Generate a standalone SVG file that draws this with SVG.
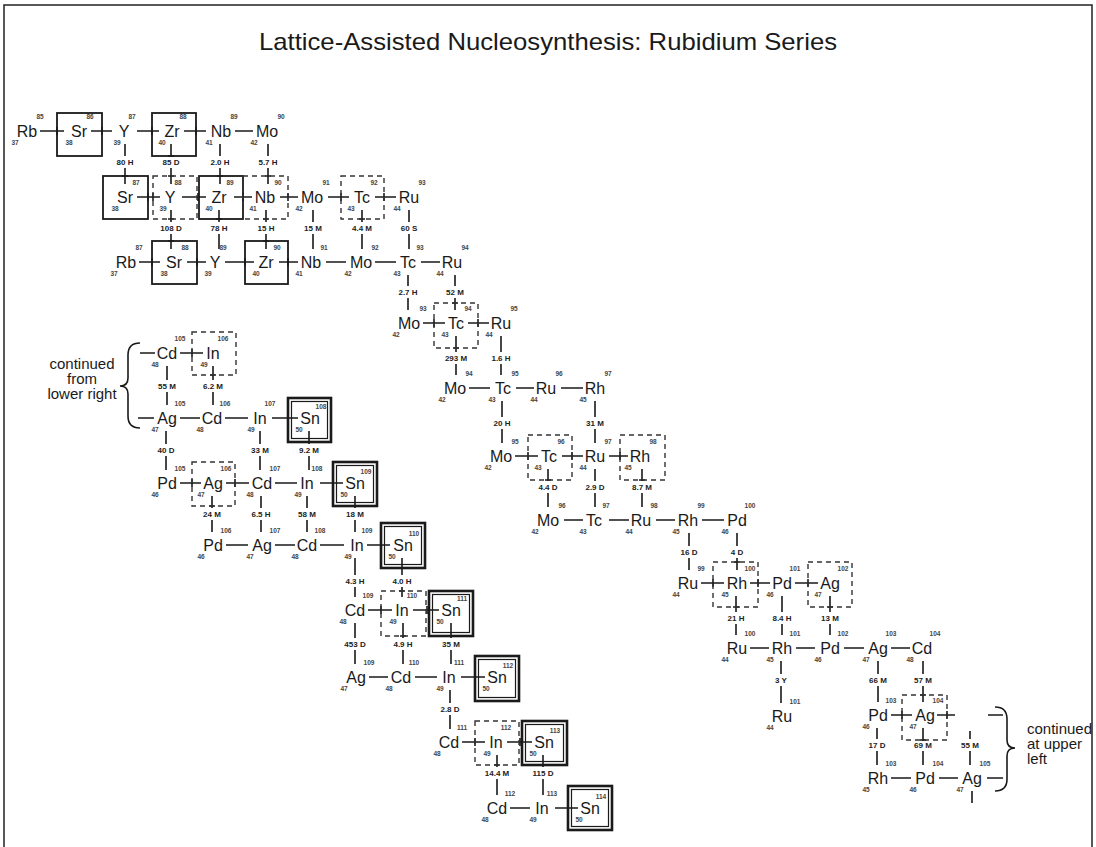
<svg xmlns="http://www.w3.org/2000/svg" width="1096" height="847" viewBox="0 0 1096 847">
<style>
.e{font-family:"Liberation Sans",Arial,sans-serif;font-size:16px;text-anchor:middle;fill:#1a1a1a}
.s{font-family:"Liberation Sans",Arial,sans-serif;font-size:6.5px;font-weight:bold;text-anchor:middle;fill:#444}
.h{font-family:"Liberation Sans",Arial,sans-serif;font-size:8px;font-weight:bold;text-anchor:middle;fill:#222}
.n{font-family:"Liberation Sans",Arial,sans-serif;font-size:15px;fill:#1a1a1a}
.c{stroke:#1a1a1a;stroke-width:1.6;fill:none}
.b{fill:none;stroke:#1a1a1a;stroke-width:1.8}
.d{fill:none;stroke:#333;stroke-width:1.4;stroke-dasharray:5 4}
.o{fill:none;stroke:#1a1a1a;stroke-width:2.6}
.i{fill:none;stroke:#1a1a1a;stroke-width:1.2}
</style>
<rect width="1096" height="847" fill="#fff"/>
<path d="M4 847V5H1092V847" fill="none" stroke="#222" stroke-width="1.5"/>
<text x="548" y="50" font-family="Liberation Sans, Arial, sans-serif" font-size="24" text-anchor="middle" textLength="578" lengthAdjust="spacingAndGlyphs" fill="#1a1a1a">Lattice-Assisted Nucleosynthesis: Rubidium Series</text>

<g id="connectors">
<path class="c" d="M40 131H64M91 131H112M137 131H159M184 131H206M235 131H253
M137 197H160M182 197H206M234 197H252M280 197H298M328 197H349M375 197H396
M139 262H160M187 262H206M225 262H254M279 262H298M326 262H346M375 262H396M421 262H440
M423 323H445M468 323H489
M469 388H490M516 388H534M561 388H583
M515 456H538M562 456H583M609 456H628
M564 520H583M609 520H629M656 520H675M702 520H724
M701 583H724M750 583H770M795 583H818
M750 648H769M796 648H815M844 648H864M891 648H910
M891 715H912M937 715H955M988 715H1003
M891 778H911M939 778H958M987 778H1003
M140 353H155M180 353H203
M138 418H154M180 418H200M225 418H248M272 418H298
M180 483H201M226 483H249M275 483H297M320 483H343
M226 545H248M275 545H295M320 545H344M367 545H390
M368 610H392M413 610H439
M369 677H388M415 677H437M461 677H485
M462 742H485M507 742H532
M510 808H530M555 808H578"/>
<path class="c" d="M57 127V135M102 127V135M152 127V135M196 127V135
M148 193V201M153 193V201M198 193V201M243 193V201M288 193V201M341 193V201M384 193V201
M152 258V266M197 258V266M245 258V266M288 258V266
M434 319V327M478 319V327
M528 452V460M572 452V460M620 452V460
M713 579V587M758 579V587M808 579V587
M902 711V719M947 711V719
M192 349V357M288 414V422M192 479V487M235 479V487M333 479V487M381 541V549M381 606V614M427 606V614M475 673V681M475 738V746M520 738V746M568 804V812"/>
<path class="c" d="M125 144V156M125 168V184M171 144V156M171 168V184M220 144V156M220 168V184M268 144V156M268 168V184
M171 210V222M171 234V249M219 210V222M219 234V249M266 210V222M266 234V249M313 210V222M313 234V249M362 210V222M362 234V249M409 210V222M409 234V249
M408 275V286M408 298V310M455 275V286M455 298V310
M456 336V352M456 364V375M501 336V352M501 364V375
M502 401V417M502 429V443M595 401V417M595 429V443
M548 469V481M548 493V507M595 469V481M595 493V507M642 469V481M642 493V507
M689 533V546M689 558V570M737 533V546M737 558V570
M736 596V612M736 624V635M782 596V612M782 624V635M830 596V612M830 624V635
M781 661V674M781 686V703M878 661V674M878 686V702M923 661V674M923 686V702
M877 728V739M877 751V765M923 728V741M923 751V765M970 731V739M970 751V765M972 791V803
M167 366V380M167 392V405M213 366V380M213 392V405
M166 431V444M166 456V470M260 431V444M260 456V470M309 431V444M309 456V470
M212 496V508M212 520V532M261 496V508M261 520V532M307 496V508M307 520V532M355 496V508M355 520V532
M355 558V575M355 587V597M402 558V575M402 587V597
M355 623V638M355 650V664M403 623V638M403 650V664M451 623V638M451 650V664
M450 690V703M450 715V729
M497 755V767M497 779V795M543 755V767M543 779V795"/>
<path class="c" d="M122 176H128M168 156H174M168 176H174M217 176H223M265 176H271
M168 219H174M168 241H174M216 219H222M263 219H269M263 241H269M359 219H365
M452 303H458M453 348H459M545 480H551M639 480H645M734 562H740M733 607H739M827 607H833M920 695H926M920 740H926
M210 375H216M306 442H312M209 506H215M352 506H358M399 568H405M399 591H405M400 636H406M448 636H454M494 765H500M540 765H546"/>
<path class="c" d="M140 343Q128 343 128 355V378Q128 386 120 386Q128 386 128 394V416Q128 428 140 428"/>
<path class="c" d="M995 707Q1007 707 1007 719V740Q1007 748 1015 748Q1007 748 1007 756V779Q1007 791 995 791"/>
<g id="halflives">
<text class="h" x="125" y="165">80 H</text><text class="h" x="171" y="165">85 D</text><text class="h" x="220" y="165">2.0 H</text><text class="h" x="268" y="165">5.7 H</text>
<text class="h" x="171" y="231">108 D</text><text class="h" x="219" y="231">78 H</text><text class="h" x="266" y="231">15 H</text><text class="h" x="313" y="231">15 M</text><text class="h" x="362" y="231">4.4 M</text><text class="h" x="409" y="231">60 S</text>
<text class="h" x="408" y="295">2.7 H</text><text class="h" x="455" y="295">52 M</text>
<text class="h" x="456" y="361">293 M</text><text class="h" x="501" y="361">1.6 H</text>
<text class="h" x="502" y="426">20 H</text><text class="h" x="595" y="426">31 M</text>
<text class="h" x="548" y="490">4.4 D</text><text class="h" x="595" y="490">2.9 D</text><text class="h" x="642" y="490">8.7 M</text>
<text class="h" x="689" y="555">16 D</text><text class="h" x="737" y="555">4 D</text>
<text class="h" x="736" y="621">21 H</text><text class="h" x="782" y="621">8.4 H</text><text class="h" x="830" y="621">13 M</text>
<text class="h" x="781" y="683">3 Y</text><text class="h" x="878" y="683">66 M</text><text class="h" x="923" y="683">57 M</text>
<text class="h" x="877" y="748">17 D</text><text class="h" x="923" y="748">69 M</text><text class="h" x="970" y="748">55 M</text>
<text class="h" x="167" y="389">55 M</text><text class="h" x="213" y="389">6.2 M</text>
<text class="h" x="166" y="453">40 D</text><text class="h" x="260" y="453">33 M</text><text class="h" x="309" y="453">9.2 M</text>
<text class="h" x="212" y="517">24 M</text><text class="h" x="261" y="517">6.5 H</text><text class="h" x="307" y="517">58 M</text><text class="h" x="355" y="517">18 M</text>
<text class="h" x="355" y="584">4.3 H</text><text class="h" x="402" y="584">4.0 H</text>
<text class="h" x="355" y="647">453 D</text><text class="h" x="403" y="647">4.9 H</text><text class="h" x="451" y="647">35 M</text>
<text class="h" x="450" y="712">2.8 D</text>
<text class="h" x="497" y="776">14.4 M</text><text class="h" x="543" y="776">115 D</text>
</g>
</g>

<g id="notes">
<text class="n" x="82" y="369" text-anchor="middle">continued</text>
<text class="n" x="82" y="384" text-anchor="middle">from</text>
<text class="n" x="82" y="399" text-anchor="middle">lower right</text>
<text class="n" x="1027" y="734">continued</text>
<text class="n" x="1027" y="749">at upper</text>
<text class="n" x="1027" y="764">left</text>
</g>

<g id="r1-rb85"><text class="e" x="27" y="137">Rb</text><text class="s" x="40" y="119">85</text><text class="s" x="15" y="145">37</text></g>
<g id="r1-sr86"><rect class="b" x="57" y="113" width="45" height="43"/><text class="e" x="79" y="137">Sr</text><text class="s" x="90" y="119">86</text><text class="s" x="69" y="145">38</text></g>
<g id="r1-y87"><text class="e" x="124" y="137">Y</text><text class="s" x="132" y="119">87</text><text class="s" x="117" y="145">39</text></g>
<g id="r1-zr88"><rect class="b" x="152" y="113" width="44" height="43"/><text class="e" x="172" y="137">Zr</text><text class="s" x="183" y="119">88</text><text class="s" x="162" y="145">40</text></g>
<g id="r1-nb89"><text class="e" x="221" y="137">Nb</text><text class="s" x="234" y="119">89</text><text class="s" x="209" y="145">41</text></g>
<g id="r1-mo90"><text class="e" x="267" y="137">Mo</text><text class="s" x="281" y="119">90</text><text class="s" x="254" y="145">42</text></g>

<g id="r2-sr87"><rect class="b" x="103" y="176" width="45" height="43"/><text class="e" x="125" y="203">Sr</text><text class="s" x="136" y="185">87</text><text class="s" x="115" y="211">38</text></g>
<g id="r2-y88"><rect class="d" x="153" y="176" width="44" height="43"/><text class="e" x="170" y="203">Y</text><text class="s" x="178" y="185">88</text><text class="s" x="163" y="211">39</text></g>
<g id="r2-zr89"><rect class="b" x="199" y="176" width="44" height="43"/><text class="e" x="219" y="203">Zr</text><text class="s" x="230" y="185">89</text><text class="s" x="209" y="211">40</text></g>
<g id="r2-nb90"><rect class="d" x="243" y="176" width="45" height="43"/><text class="e" x="265" y="203">Nb</text><text class="s" x="278" y="185">90</text><text class="s" x="253" y="211">41</text></g>
<g id="r2-mo91"><text class="e" x="312" y="203">Mo</text><text class="s" x="326" y="185">91</text><text class="s" x="299" y="211">42</text></g>
<g id="r2-tc92"><rect class="d" x="341" y="176" width="43" height="43"/><text class="e" x="362" y="203">Tc</text><text class="s" x="374" y="185">92</text><text class="s" x="351" y="211">43</text></g>
<g id="r2-ru93"><text class="e" x="409" y="203">Ru</text><text class="s" x="422" y="185">93</text><text class="s" x="397" y="211">44</text></g>

<g id="r3-rb87"><text class="e" x="126" y="268">Rb</text><text class="s" x="139" y="250">87</text><text class="s" x="114" y="276">37</text></g>
<g id="r3-sr88"><rect class="b" x="152" y="241" width="45" height="43"/><text class="e" x="174" y="268">Sr</text><text class="s" x="185" y="250">88</text><text class="s" x="164" y="276">38</text></g>
<g id="r3-y89"><text class="e" x="215" y="268">Y</text><text class="s" x="223" y="250">89</text><text class="s" x="208" y="276">39</text></g>
<g id="r3-zr90"><rect class="b" x="245" y="241" width="43" height="43"/><text class="e" x="266" y="268">Zr</text><text class="s" x="277" y="250">90</text><text class="s" x="256" y="276">40</text></g>
<g id="r3-nb91"><text class="e" x="311" y="268">Nb</text><text class="s" x="324" y="250">91</text><text class="s" x="299" y="276">41</text></g>
<g id="r3-mo92"><text class="e" x="361" y="268">Mo</text><text class="s" x="375" y="250">92</text><text class="s" x="348" y="276">42</text></g>
<g id="r3-tc93"><text class="e" x="408" y="268">Tc</text><text class="s" x="420" y="250">93</text><text class="s" x="397" y="276">43</text></g>
<g id="r3-ru94"><text class="e" x="452" y="268">Ru</text><text class="s" x="465" y="250">94</text><text class="s" x="440" y="276">44</text></g>

<g id="r4-mo93"><text class="e" x="409" y="329">Mo</text><text class="s" x="423" y="311">93</text><text class="s" x="396" y="337">42</text></g>
<g id="r4-tc94"><rect class="d" x="434" y="303" width="44" height="45"/><text class="e" x="456" y="329">Tc</text><text class="s" x="468" y="311">94</text><text class="s" x="445" y="337">43</text></g>
<g id="r4-ru95"><text class="e" x="501" y="329">Ru</text><text class="s" x="514" y="311">95</text><text class="s" x="489" y="337">44</text></g>

<g id="r5-mo94"><text class="e" x="455" y="394">Mo</text><text class="s" x="469" y="376">94</text><text class="s" x="442" y="402">42</text></g>
<g id="r5-tc95"><text class="e" x="503" y="394">Tc</text><text class="s" x="515" y="376">95</text><text class="s" x="492" y="402">43</text></g>
<g id="r5-ru96"><text class="e" x="546" y="394">Ru</text><text class="s" x="559" y="376">96</text><text class="s" x="534" y="402">44</text></g>
<g id="r5-rh97"><text class="e" x="595" y="394">Rh</text><text class="s" x="608" y="376">97</text><text class="s" x="583" y="402">45</text></g>

<g id="r6-mo95"><text class="e" x="501" y="462">Mo</text><text class="s" x="515" y="444">95</text><text class="s" x="488" y="470">42</text></g>
<g id="r6-tc96"><rect class="d" x="528" y="435" width="44" height="45"/><text class="e" x="549" y="462">Tc</text><text class="s" x="561" y="444">96</text><text class="s" x="538" y="470">43</text></g>
<g id="r6-ru97"><text class="e" x="595" y="462">Ru</text><text class="s" x="608" y="444">97</text><text class="s" x="583" y="470">44</text></g>
<g id="r6-rh98"><rect class="d" x="620" y="435" width="45" height="45"/><text class="e" x="640" y="462">Rh</text><text class="s" x="653" y="444">98</text><text class="s" x="628" y="470">45</text></g>

<g id="r7-mo96"><text class="e" x="548" y="526">Mo</text><text class="s" x="562" y="508">96</text><text class="s" x="535" y="534">42</text></g>
<g id="r7-tc97"><text class="e" x="594" y="526">Tc</text><text class="s" x="606" y="508">97</text><text class="s" x="583" y="534">43</text></g>
<g id="r7-ru98"><text class="e" x="641" y="526">Ru</text><text class="s" x="654" y="508">98</text><text class="s" x="629" y="534">44</text></g>
<g id="r7-rh99"><text class="e" x="688" y="526">Rh</text><text class="s" x="701" y="508">99</text><text class="s" x="676" y="534">45</text></g>
<g id="r7-pd100"><text class="e" x="737" y="526">Pd</text><text class="s" x="750" y="508">100</text><text class="s" x="725" y="534">46</text></g>

<g id="r8-ru99"><text class="e" x="688" y="589">Ru</text><text class="s" x="701" y="571">99</text><text class="s" x="676" y="597">44</text></g>
<g id="r8-rh100"><rect class="d" x="713" y="562" width="45" height="45"/><text class="e" x="737" y="589">Rh</text><text class="s" x="750" y="571">100</text><text class="s" x="725" y="597">45</text></g>
<g id="r8-pd101"><text class="e" x="782" y="589">Pd</text><text class="s" x="795" y="571">101</text><text class="s" x="770" y="597">46</text></g>
<g id="r8-ag102"><rect class="d" x="808" y="562" width="44" height="45"/><text class="e" x="830" y="589">Ag</text><text class="s" x="843" y="571">102</text><text class="s" x="818" y="597">47</text></g>

<g id="r9-ru100"><text class="e" x="737" y="654">Ru</text><text class="s" x="750" y="636">100</text><text class="s" x="725" y="662">44</text></g>
<g id="r9-rh101"><text class="e" x="782" y="654">Rh</text><text class="s" x="795" y="636">101</text><text class="s" x="770" y="662">45</text></g>
<g id="r9-pd102"><text class="e" x="830" y="654">Pd</text><text class="s" x="843" y="636">102</text><text class="s" x="818" y="662">46</text></g>
<g id="r9-ag103"><text class="e" x="878" y="654">Ag</text><text class="s" x="891" y="636">103</text><text class="s" x="866" y="662">47</text></g>
<g id="r9-cd104"><text class="e" x="922" y="654">Cd</text><text class="s" x="935" y="636">104</text><text class="s" x="910" y="662">48</text></g>

<g id="r10-ru101"><text class="e" x="782" y="722">Ru</text><text class="s" x="795" y="704">101</text><text class="s" x="770" y="730">44</text></g>
<g id="r10-pd103"><text class="e" x="878" y="721">Pd</text><text class="s" x="891" y="703">103</text><text class="s" x="866" y="729">46</text></g>
<g id="r10-ag104"><rect class="d" x="902" y="695" width="45" height="45"/><text class="e" x="925" y="721">Ag</text><text class="s" x="938" y="703">104</text><text class="s" x="913" y="729">47</text></g>

<g id="r11-rh103"><text class="e" x="878" y="784">Rh</text><text class="s" x="891" y="766">103</text><text class="s" x="866" y="792">45</text></g>
<g id="r11-pd104"><text class="e" x="925" y="784">Pd</text><text class="s" x="938" y="766">104</text><text class="s" x="913" y="792">46</text></g>
<g id="r11-ag105"><text class="e" x="972" y="784">Ag</text><text class="s" x="985" y="766">105</text><text class="s" x="960" y="792">47</text></g>

<g id="l0-cd105"><text class="e" x="167" y="359">Cd</text><text class="s" x="180" y="341">105</text><text class="s" x="155" y="367">48</text></g>
<g id="l0-in106"><rect class="d" x="192" y="332" width="44" height="43"/><text class="e" x="213" y="359">In</text><text class="s" x="223" y="341">106</text><text class="s" x="204" y="367">49</text></g>

<g id="l1-ag105"><text class="e" x="167" y="424">Ag</text><text class="s" x="180" y="406">105</text><text class="s" x="155" y="432">47</text></g>
<g id="l1-cd106"><text class="e" x="212" y="424">Cd</text><text class="s" x="225" y="406">106</text><text class="s" x="200" y="432">48</text></g>
<g id="l1-in107"><text class="e" x="260" y="424">In</text><text class="s" x="270" y="406">107</text><text class="s" x="251" y="432">49</text></g>
<g id="l1-sn108"><rect class="o" x="288" y="398" width="43" height="44"/><rect class="i" x="291.5" y="401.5" width="36" height="37"/><text class="e" x="310" y="424">Sn</text><text class="s" x="321" y="409">108</text><text class="s" x="299" y="432">50</text></g>

<g id="l2-pd105"><text class="e" x="167" y="489">Pd</text><text class="s" x="180" y="471">105</text><text class="s" x="155" y="497">46</text></g>
<g id="l2-ag106"><rect class="d" x="192" y="462" width="43" height="44"/><text class="e" x="213" y="489">Ag</text><text class="s" x="226" y="471">106</text><text class="s" x="201" y="497">47</text></g>
<g id="l2-cd107"><text class="e" x="262" y="489">Cd</text><text class="s" x="275" y="471">107</text><text class="s" x="250" y="497">48</text></g>
<g id="l2-in108"><text class="e" x="307" y="489">In</text><text class="s" x="317" y="471">108</text><text class="s" x="298" y="497">49</text></g>
<g id="l2-sn109"><rect class="o" x="333" y="462" width="44" height="44"/><rect class="i" x="336.5" y="465.5" width="37" height="37"/><text class="e" x="355" y="489">Sn</text><text class="s" x="366" y="474">109</text><text class="s" x="344" y="497">50</text></g>

<g id="l3-pd106"><text class="e" x="213" y="551">Pd</text><text class="s" x="226" y="533">106</text><text class="s" x="201" y="559">46</text></g>
<g id="l3-ag107"><text class="e" x="262" y="551">Ag</text><text class="s" x="275" y="533">107</text><text class="s" x="250" y="559">47</text></g>
<g id="l3-cd108"><text class="e" x="307" y="551">Cd</text><text class="s" x="320" y="533">108</text><text class="s" x="295" y="559">48</text></g>
<g id="l3-in109"><text class="e" x="357" y="551">In</text><text class="s" x="367" y="533">109</text><text class="s" x="348" y="559">49</text></g>
<g id="l3-sn110"><rect class="o" x="381" y="523" width="44" height="45"/><rect class="i" x="384.5" y="526.5" width="37" height="38"/><text class="e" x="403" y="551">Sn</text><text class="s" x="414" y="536">110</text><text class="s" x="392" y="559">50</text></g>

<g id="l4-cd109"><text class="e" x="355" y="616">Cd</text><text class="s" x="368" y="598">109</text><text class="s" x="343" y="624">48</text></g>
<g id="l4-in110"><rect class="d" x="381" y="591" width="45" height="45"/><text class="e" x="402" y="616">In</text><text class="s" x="412" y="598">110</text><text class="s" x="393" y="624">49</text></g>
<g id="l4-sn111"><rect class="o" x="429" y="591" width="44" height="45"/><rect class="i" x="432.5" y="594.5" width="37" height="38"/><text class="e" x="451" y="616">Sn</text><text class="s" x="462" y="601">111</text><text class="s" x="440" y="624">50</text></g>

<g id="l5-ag109"><text class="e" x="356" y="683">Ag</text><text class="s" x="369" y="665">109</text><text class="s" x="344" y="691">47</text></g>
<g id="l5-cd110"><text class="e" x="401" y="683">Cd</text><text class="s" x="414" y="665">110</text><text class="s" x="389" y="691">48</text></g>
<g id="l5-in111"><text class="e" x="449" y="683">In</text><text class="s" x="459" y="665">111</text><text class="s" x="440" y="691">49</text></g>
<g id="l5-sn112"><rect class="o" x="475" y="656" width="44" height="45"/><rect class="i" x="478.5" y="659.5" width="37" height="38"/><text class="e" x="497" y="683">Sn</text><text class="s" x="508" y="668">112</text><text class="s" x="486" y="691">50</text></g>

<g id="l6-cd111"><text class="e" x="449" y="748">Cd</text><text class="s" x="462" y="730">111</text><text class="s" x="437" y="756">48</text></g>
<g id="l6-in112"><rect class="d" x="475" y="721" width="44" height="44"/><text class="e" x="496" y="748">In</text><text class="s" x="506" y="730">112</text><text class="s" x="487" y="756">49</text></g>
<g id="l6-sn113"><rect class="o" x="522" y="721" width="45" height="44"/><rect class="i" x="525.5" y="724.5" width="38" height="37"/><text class="e" x="544" y="748">Sn</text><text class="s" x="555" y="733">113</text><text class="s" x="533" y="756">50</text></g>

<g id="l7-cd112"><text class="e" x="497" y="814">Cd</text><text class="s" x="510" y="796">112</text><text class="s" x="485" y="822">48</text></g>
<g id="l7-in113"><text class="e" x="542" y="814">In</text><text class="s" x="552" y="796">113</text><text class="s" x="533" y="822">49</text></g>
<g id="l7-sn114"><rect class="o" x="568" y="786" width="44" height="44"/><rect class="i" x="571.5" y="789.5" width="37" height="37"/><text class="e" x="590" y="814">Sn</text><text class="s" x="601" y="799">114</text><text class="s" x="579" y="822">50</text></g>
</svg>
